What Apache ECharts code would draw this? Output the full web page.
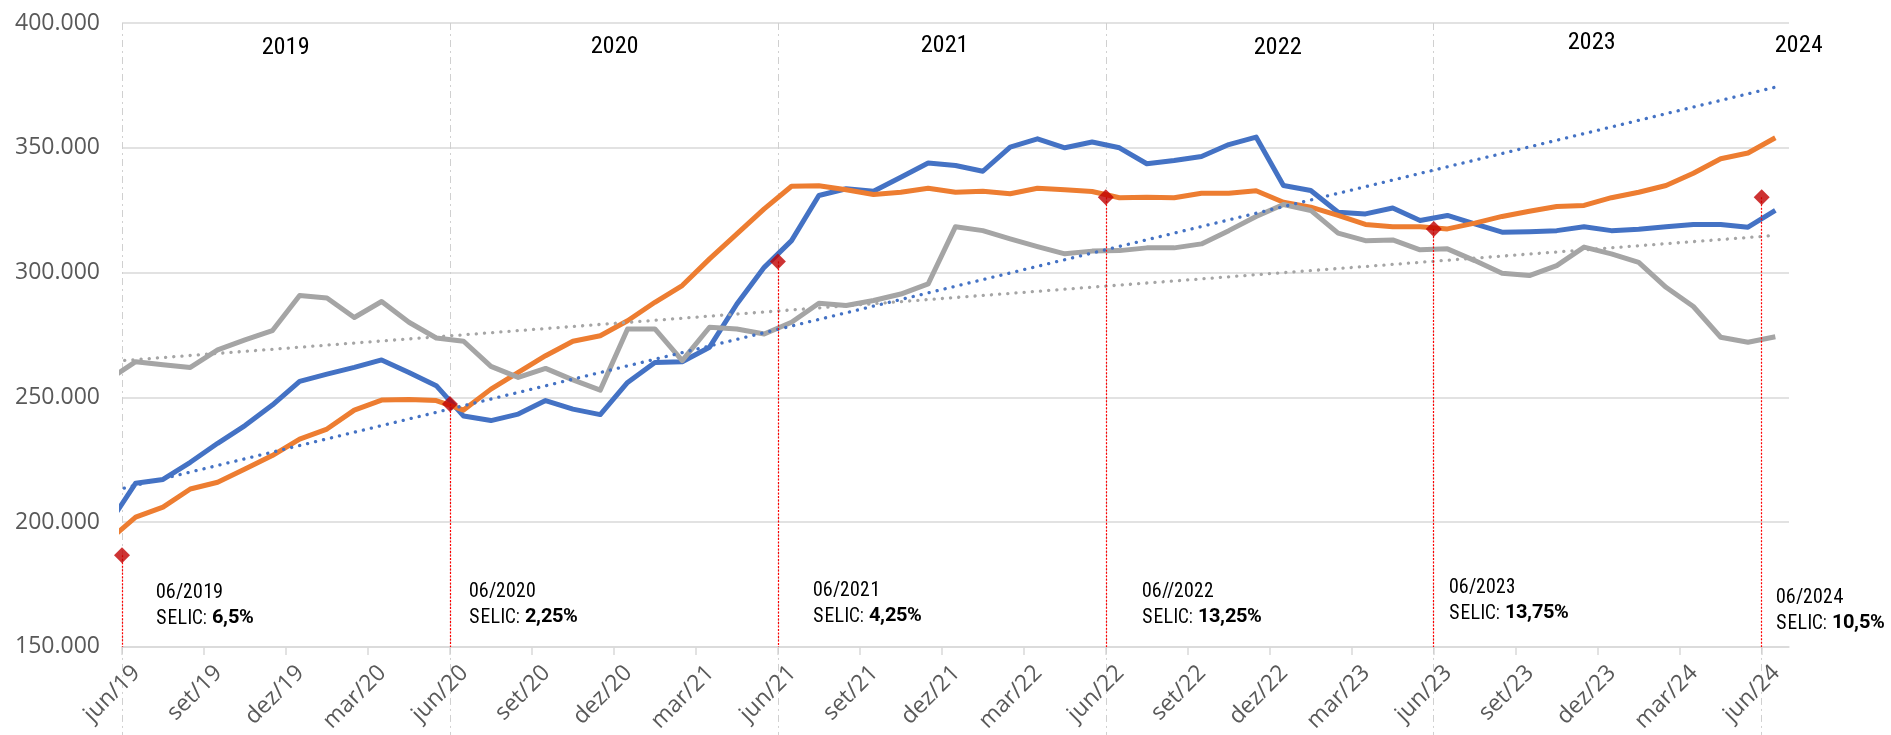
<!DOCTYPE html>
<html><head><meta charset="utf-8">
<script src="https://cdn.jsdelivr.net/npm/echarts@6/dist/echarts.min.js"></script>
<style>
html,body{margin:0;padding:0;background:#fff}#c{width:1891px;height:735px}
@font-face{font-family:'NarrowX';font-weight:400;src:local('Liberation Sans Narrow'),local('LiberationSansNarrow-Regular'),local('Arial Narrow'),local('ArialNarrow'),local('Roboto Condensed'),local('RobotoCondensed-Regular'),local('Open Sans Condensed'),local('Noto Sans Condensed'),local('NotoSans-Condensed'),local('DejaVu Sans Condensed'),local('DejaVuSansCondensed');}
@font-face{font-family:'NarrowX';font-weight:700;src:local('Liberation Sans Narrow Bold'),local('LiberationSansNarrow-Bold'),local('Arial Narrow Bold'),local('ArialNarrow-Bold'),local('Roboto Condensed Bold'),local('RobotoCondensed-Bold'),local('Noto Sans Condensed Bold'),local('NotoSans-CondensedBold'),local('DejaVu Sans Condensed Bold'),local('DejaVuSansCondensed-Bold');}
</style>
</head><body><div id="c"></div>
<script>
// ---------- DATA ----------
const months = ['mai/19','jun/19','jul/19','ago/19','set/19','out/19','nov/19','dez/19',
 'jan/20','fev/20','mar/20','abr/20','mai/20','jun/20','jul/20','ago/20','set/20','out/20','nov/20','dez/20',
 'jan/21','fev/21','mar/21','abr/21','mai/21','jun/21','jul/21','ago/21','set/21','out/21','nov/21','dez/21',
 'jan/22','fev/22','mar/22','abr/22','mai/22','jun/22','jul/22','ago/22','set/22','out/22','nov/22','dez/22',
 'jan/23','fev/23','mar/23','abr/23','mai/23','jun/23','jul/23','ago/23','set/23','out/23','nov/23','dez/23',
 'jan/24','fev/24','mar/24','abr/24','mai/24','jun/24'];
const tickLabels = ['jun/19','set/19','dez/19','mar/20','jun/20','set/20','dez/20','mar/21','jun/21','set/21','dez/21',
 'mar/22','jun/22','set/22','dez/22','mar/23','jun/23','set/23','dez/23','mar/24','jun/24'];
const blueValues = [199,215.6,217.1,224,231.6,238.7,246.9,256.4,259.3,262,265,260,254.7,242.5,240.7,243.3,248.7,245.3,243.1,256,
 264,264.3,270.1,287.4,302.1,312.8,330.9,333.6,332.6,338.2,343.9,342.9,340.6,350.3,353.6,350,352.3,350,343.6,344.9,346.5,351.3,
 354.3,334.9,332.9,324.2,323.5,325.9,320.9,322.9,319.5,316.2,316.4,316.8,318.4,316.8,317.4,318.4,319.3,319.3,318.2,324.9];
const orangeValues = [192.6,202,206,213.3,216,221.3,226.7,233.3,237.3,244.9,248.9,249.1,248.7,244.9,253.3,260,266.7,272.5,274.7,280.7,
 288.1,294.8,305.5,315.5,325.5,334.6,334.8,333.2,331.3,332.2,333.8,332.2,332.6,331.6,333.8,333.2,332.5,330,330.2,330,331.8,331.8,
 332.8,328.2,326.2,322.9,319.3,318.4,318.4,317.5,319.8,322.5,324.6,326.5,326.9,330,332.2,334.9,339.8,345.6,347.9,354];
const grayValues = [257,264.3,263.1,262,269,273,276.7,290.8,289.8,282,288.4,280.1,273.8,272.5,262.4,258,261.6,257,252.9,277.4,
 277.4,264.7,278.1,277.4,275.4,280.1,287.7,286.8,288.8,291.4,295.5,318.4,316.8,313.5,310.4,307.5,308.6,308.8,309.9,309.9,311.5,316.8,
 322.5,327.3,324.9,315.8,312.8,313.1,309.1,309.5,304.8,299.7,298.8,302.8,310.2,307.5,304.1,294.1,286.4,274.1,272.1,274.3];
// linear trend lines (value at first month, value at last month)
const blueTrend = [212.1, 374.3];
const grayTrend = [264.3, 314.9];
const selicMonths = ['jun/19','jun/20','jun/21','jun/22','jun/23','jun/24'];
const selicMarkerValues = [186.7,247.3,304.4,330.2,317.5,330.2];
const selicDates = ['06/2019','06/2020','06/2021','06//2022','06/2023','06/2024'];
const selicRates = ['6,5%','2,25%','4,25%','13,25%','13,75%','10,5%'];
const yearLabels = ['2019','2020','2021','2022','2023','2024'];

// ---------- BUILD ----------
const AXISFONT = '"Open Sans","Noto Sans",sans-serif';
const pointX = i => i - 0.5;                       // mid-month position (jun/19 tick = 0)
const tickX = m => months.indexOf(m) - 1;          // start-of-month position
const toPts = arr => arr.map((v,i)=>[pointX(i), v]);
const trendPts = t => [[pointX(0), t[0]], [pointX(months.length-1), t[1]]];
const tickVals = tickLabels.map((_,i)=>i*3);
const yearTickVals = [0,12,24,36,48,60];

// label placement config (axis units)
const yearPos = [[6,390.3],[18.05,390.9],[30.1,391.2],[42.3,390.4],[53.8,392.4],[61,391.2]];
const yearOffsets = [[0,0],[0,0],[0,0],[0,0],[0,0],[10,0]];
const notePos = [[1.24,166.8],[12.71,167.2],[25.28,167.6],[37.33,167.2],[48.55,168.8],[60.54,164.8]];

function pickNarrow(){
  const ctx = document.createElement('canvas').getContext('2d');
  const fam = 'NarrowX,"Liberation Sans",Arial,sans-serif';
  ctx.font = '21px ' + fam;
  const w = ctx.measureText('06/2019').width;         // reference: ~64px
  let note = 21 * Math.min(1, 64 / w);
  ctx.font = '26px ' + fam;
  const wy = ctx.measureText('2019').width;           // reference: ~48px
  let year = 26 * Math.min(1, 48 / wy);
  return {fam, note: Math.max(note, 17), year: Math.max(year, 21)};
}

function draw(){
  const N = pickNarrow();
  const chart = echarts.init(document.getElementById('c'), null, {renderer:'canvas'});
  const lineS = (name, arr, color) => ({
    name, type:'line', data: toPts(arr), symbol:'none', clip:true, z:3,
    lineStyle:{color, width:5, join:'round'}, itemStyle:{color}
  });
  const trendS = (t, color) => ({
    type:'line', data: trendPts(t), symbol:'none', clip:true, z:4, silent:true,
    lineStyle:{color, width:3.3, type:[0.1,8.1], cap:'round'}
  });
  const option = {
    animation:false,
    backgroundColor:'#ffffff',
    textStyle:{fontFamily:AXISFONT},
    grid:{left:122, right:102, top:23, bottom:88, containLabel:false},
    xAxis:[{
      type:'value', min:0, max:61,
      axisLine:{show:true, lineStyle:{color:'#d9d9d9', width:1.5}},
      axisTick:{show:true, customValues:tickVals, length:8, lineStyle:{color:'#d9d9d9', width:1.5}},
      axisLabel:{customValues:tickVals, formatter:v=>tickLabels[Math.round(v/3)]||'', rotate:45, margin:8,
        verticalAlign:'top', padding:[9,0,0,0], color:'#595959', fontSize:23, fontFamily:AXISFONT},
      splitLine:{show:false}
    },{
      type:'value', min:0, max:61, interval:12, position:'bottom',
      axisLine:{show:false}, axisLabel:{show:false},
      axisTick:{show:true, customValues:yearTickVals, length:88, lineStyle:{color:'#d0d0d0', width:1, type:[7,4,2,4]}},
      splitLine:{show:true, showMinLine:true, showMaxLine:false, lineStyle:{color:'#d0d0d0', width:1, type:[7,4,2,4]}}
    }],
    yAxis:{
      type:'value', min:150, max:400, interval:50,
      axisLine:{show:false}, axisTick:{show:false},
      axisLabel:{formatter:v=>v+'.000', color:'#595959', fontSize:23, margin:22, fontFamily:AXISFONT},
      splitLine:{lineStyle:{color:'#d9d9d9', width:1.5}}
    },
    series:[
      lineS('Série 1', blueValues, '#4472C4'),
      lineS('Série 2', orangeValues, '#ED7D31'),
      lineS('Série 3', grayValues, '#A5A5A5'),
      trendS(blueTrend, '#4472C4'),
      Object.assign(trendS(grayTrend, '#A5A5A5'), {
        markPoint:{
          silent:true, symbol:'circle', symbolSize:0,
          label:{show:true, position:'inside', color:'#000', fontSize:N.year, fontFamily:N.fam, formatter:'{b}'},
          data: yearLabels.map((y,i)=>({name:y, coord:yearPos[i], label:{offset:yearOffsets[i]}}))
        },
        markLine:{
          silent:true, symbol:'none', label:{show:false},
          lineStyle:{color:'#ff0000', width:1.2, type:[2,1.5]},
          data: selicMonths.map((m,i)=>[{coord:[tickX(m), selicMarkerValues[i]]},{coord:[tickX(m), 150]}])
        }
      }),
      {
        name:'SELIC', type:'scatter', z:6, symbol:'diamond', symbolSize:[16,16],
        itemStyle:{color:'#C00000'},
        data: selicMonths.map((m,i)=>[tickX(m), selicMarkerValues[i]]),
        markPoint:{
          silent:true, symbol:'circle', symbolSize:0,
          label:{show:true, position:'right', distance:0, align:'left',
            formatter: p => '{a|'+selicDates[p.dataIndex]+'}\n{a|SELIC: }{b|'+selicRates[p.dataIndex]+'}',
            rich:{
              a:{fontFamily:N.fam, fontSize:N.note, color:'#000', lineHeight:26},
              b:{fontFamily:N.fam, fontSize:N.note, color:'#000', fontWeight:'bold', lineHeight:26}
            }},
          data: selicMonths.map((m,i)=>({name:selicDates[i], coord:notePos[i]}))
        }
      }
    ]
  };
  chart.setOption(option);
}

Promise.all([
  document.fonts.load('21px NarrowX').catch(()=>null),
  document.fonts.load('bold 21px NarrowX').catch(()=>null)
]).then(draw, draw);
</script>
</body></html>
